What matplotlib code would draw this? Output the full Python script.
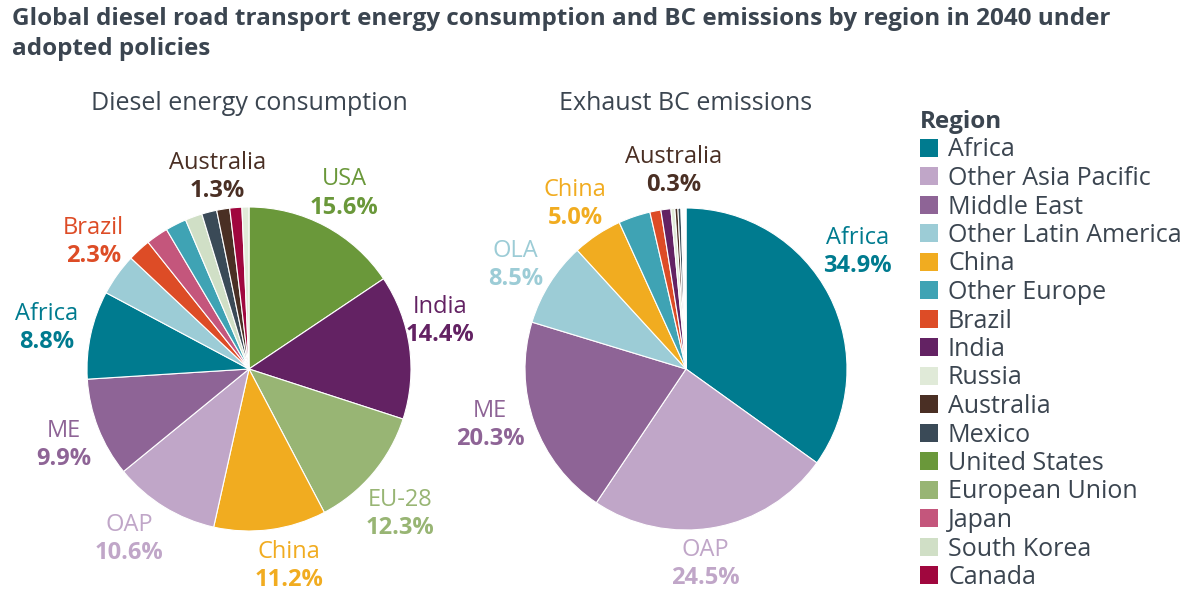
import numpy as np
import matplotlib.pyplot as plt
from matplotlib.patches import Patch

plt.rcParams['font.family'] = ['Open Sans', 'DejaVu Sans']

# region colours (legend order)
regions = ["Africa", "Other Asia Pacific", "Middle East", "Other Latin America", "China",
           "Other Europe", "Brazil", "India", "Russia", "Australia", "Mexico",
           "United States", "European Union", "Japan", "South Korea", "Canada"]
colors = ["#007B8F", "#C0A6C8", "#8E6496", "#9CCCD6", "#F1AC20",
          "#3FA3B4", "#DD4C26", "#632263", "#E0EAD8", "#4A2F24", "#3A4A57",
          "#6A983A", "#98B574", "#C4567C", "#D0DFC6", "#A0073E"]
cmap = dict(zip(regions, colors))

# diesel energy consumption share (%), clockwise from 12 o'clock
energy_regions = ["United States", "India", "European Union", "China", "Other Asia Pacific",
                  "Middle East", "Africa", "Other Latin America", "Brazil", "Japan",
                  "Other Europe", "South Korea", "Mexico", "Australia", "Canada", "Russia"]
energy_values = [15.6, 14.4, 12.3, 11.2, 10.6, 9.9, 8.8, 4.2, 2.3, 2.2, 2.1, 1.7, 1.5, 1.3, 1.2, 0.7]
energy_labels = {"United States": "USA", "India": "India", "European Union": "EU-28",
                 "China": "China", "Other Asia Pacific": "OAP", "Middle East": "ME",
                 "Africa": "Africa", "Brazil": "Brazil", "Australia": "Australia"}

# exhaust BC emissions share (%)
bc_regions = regions
bc_values = [34.9, 24.5, 20.3, 8.5, 5.0, 3.2, 1.1, 1.0, 0.4, 0.3, 0.3, 0.1, 0.1, 0.1, 0.1, 0.1]
bc_labels = {"Africa": "Africa", "Other Asia Pacific": "OAP", "Middle East": "ME",
             "Other Latin America": "OLA", "China": "China", "Australia": "Australia"}

# label placement tweaks: (angle offset in degrees, distance in radii)
energy_nudge = {"India": (7, 1.22), "European Union": (-3, 1.28), "China": (4, 1.22),
                "Other Asia Pacific": (-4, 1.27), "Middle East": (0, 1.23), "Africa": (0, 1.28),
                "Brazil": (7.5, 1.25), "Australia": (0, 1.22)}
bc_nudge = {"Africa": (8, 1.3), "Other Asia Pacific": (-4.5, 1.2), "Middle East": (-4.5, 1.26)}

text_col = "#3B4550"
W, H = 1200, 609
fig = plt.figure(figsize=(12, 6.09), dpi=100)

fig.text(12 / W, 1 - 7 / H, "Global diesel road transport energy consumption and BC emissions by region in 2040 under\nadopted policies",
         ha="left", va="top", fontsize=17.5, fontweight="bold", color=text_col, linespacing=1.35)


def draw_pie(cx, cy, r, names, vals, labels, nudge, subtitle):
    ax = fig.add_axes([(cx - r) / W, (H - cy - r) / H, 2 * r / W, 2 * r / H])
    wedges, _ = ax.pie(vals, colors=[cmap[n] for n in names], startangle=90, counterclock=False,
                       radius=1, wedgeprops=dict(edgecolor="white", linewidth=0.8))
    ax.set_xlim(-1, 1)
    ax.set_ylim(-1, 1)
    ax.axis("off")
    for w, n, v in zip(wedges, names, vals):
        if n not in labels:
            continue
        off, dist = nudge.get(n, (0, 1.25))
        ang = np.deg2rad((w.theta1 + w.theta2) / 2 + off)
        x, y = dist * np.cos(ang), dist * np.sin(ang) - 0.012
        c = cmap[n]
        ax.text(x, y + 0.005, labels[n], ha="center", va="bottom", fontsize=17, color=c, clip_on=False)
        ax.text(x, y - 0.02, f"{v:.1f}%", ha="center", va="top", fontsize=17, fontweight="bold",
                color=c, clip_on=False)
    fig.text(cx / W, 1 - 104 / H, subtitle, ha="center", va="center", fontsize=18,
             fontweight="medium", color=text_col)


draw_pie(249, 369, 162, energy_regions, energy_values, energy_labels, energy_nudge,
         "Diesel energy consumption")
draw_pie(686, 369, 161, bc_regions, bc_values, bc_labels, bc_nudge, "Exhaust BC emissions")

handles = [Patch(facecolor=c, edgecolor="none") for c in colors]
leg = fig.legend(handles, regions, loc="upper left", bbox_to_anchor=(910 / W, 1 - 100 / H),
                 frameon=False, title="Region", fontsize=18, handlelength=0.72, handleheight=0.72,
                 handletextpad=0.4, labelspacing=0.14, borderaxespad=0, alignment="left")
leg.get_title().set_fontweight("bold")
leg.get_title().set_fontsize(17.5)
leg.get_title().set_color(text_col)
for t in leg.get_texts():
    t.set_color(text_col)

fig.savefig("out.png", dpi=100)
